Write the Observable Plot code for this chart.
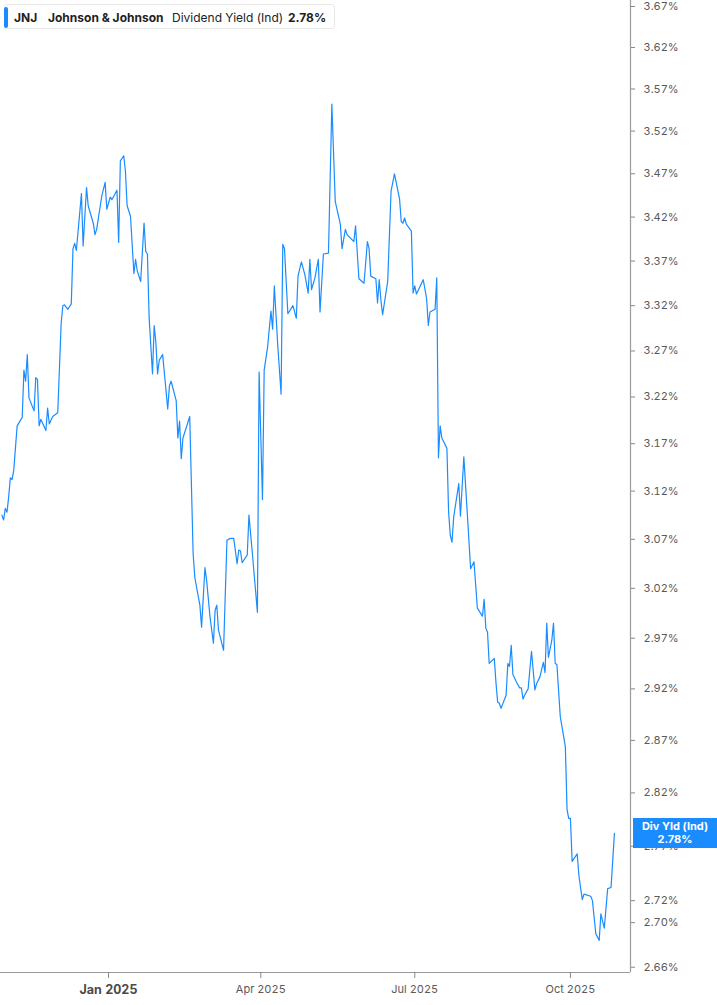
<!DOCTYPE html>
<html>
<head>
<meta charset="utf-8">
<script src="https://cdn.jsdelivr.net/npm/d3@7"></script>
<script src="https://cdn.jsdelivr.net/npm/@observablehq/plot@0.6"></script>
<style>
  html, body { margin: 0; padding: 0; background: #fff; }
  #wrap { position: relative; width: 717px; height: 1005px; font-family: Inter, "Noto Sans", sans-serif; }
  #legend { position: absolute; left: 4px; top: 4px; width: 331px; height: 25px; background: #fff;
    border: 1px solid #e8e8e8; border-radius: 3px; box-sizing: border-box; font-size: 12px; color: #222;
    display: flex; align-items: center; white-space: nowrap; }
  #legend .bar { position: absolute; left: -1px; top: 2px; width: 4px; height: 21px; background: #1a8cff; border-radius: 2px; }
  #legend span { position: absolute; top: 5px; }
  #tag { position: absolute; left: 633px; width: 84px; height: 30px; background: #1a8cff; color: #fff;
    font-size: 11px; font-weight: 700; text-align: center; line-height: 13px; box-sizing: border-box; padding-top: 2px; }
</style>
</head>
<body>
<div id="wrap"></div>
<script>
const ticker = "JNJ";
const company = "Johnson & Johnson";
const metric = "Dividend Yield (Ind)";
const tagTitle = "Div Yld (Ind)";

const dates = [
"2024-10-30","2024-10-31","2024-11-01","2024-11-02","2024-11-03","2024-11-04","2024-11-05","2024-11-06","2024-11-08","2024-11-11",
"2024-11-12","2024-11-13","2024-11-14","2024-11-15","2024-11-18","2024-11-19","2024-11-20","2024-11-21","2024-11-22","2024-11-25",
"2024-11-26","2024-11-27","2024-11-29","2024-12-02","2024-12-04","2024-12-05","2024-12-06","2024-12-08","2024-12-10","2024-12-11",
"2024-12-12","2024-12-13","2024-12-16","2024-12-17","2024-12-19","2024-12-20","2024-12-23","2024-12-24","2024-12-25","2024-12-28",
"2024-12-30","2024-12-31","2025-01-02","2025-01-03","2025-01-06","2025-01-07","2025-01-08","2025-01-10","2025-01-11","2025-01-12",
"2025-01-14","2025-01-16","2025-01-17","2025-01-18","2025-01-20","2025-01-22","2025-01-23","2025-01-24","2025-01-25","2025-01-27",
"2025-01-28","2025-01-29","2025-01-30","2025-01-31","2025-02-02","2025-02-05","2025-02-06","2025-02-07","2025-02-10","2025-02-11",
"2025-02-12","2025-02-13","2025-02-14","2025-02-18","2025-02-20","2025-02-21","2025-02-24","2025-02-25","2025-02-27","2025-02-28",
"2025-03-02","2025-03-04","2025-03-05","2025-03-06","2025-03-07","2025-03-10","2025-03-12","2025-03-14","2025-03-16","2025-03-18",
"2025-03-19","2025-03-20","2025-03-21","2025-03-24","2025-03-25","2025-03-27","2025-03-30","2025-03-31","2025-04-02","2025-04-03",
"2025-04-05","2025-04-07","2025-04-08","2025-04-09","2025-04-11","2025-04-13","2025-04-14","2025-04-15","2025-04-17","2025-04-20",
"2025-04-22","2025-04-23","2025-04-25","2025-04-27","2025-04-29","2025-04-30","2025-05-01","2025-05-03","2025-05-05","2025-05-06",
"2025-05-08","2025-05-11","2025-05-13","2025-05-15","2025-05-18","2025-05-19","2025-05-21","2025-05-22","2025-05-26","2025-05-27",
"2025-05-29","2025-06-01","2025-06-03","2025-06-04","2025-06-05","2025-06-08","2025-06-09","2025-06-10","2025-06-11","2025-06-12",
"2025-06-15","2025-06-17","2025-06-19","2025-06-22","2025-06-23","2025-06-24","2025-06-25","2025-06-26","2025-06-29","2025-06-30",
"2025-07-01","2025-07-02","2025-07-06","2025-07-08","2025-07-09","2025-07-10","2025-07-13","2025-07-14","2025-07-15","2025-07-16",
"2025-07-17","2025-07-20","2025-07-21","2025-07-22","2025-07-23","2025-07-24","2025-07-27","2025-07-28","2025-07-30","2025-08-01",
"2025-08-02","2025-08-03","2025-08-05","2025-08-07","2025-08-10","2025-08-11","2025-08-12","2025-08-13","2025-08-14","2025-08-17",
"2025-08-18","2025-08-19","2025-08-20","2025-08-21","2025-08-24","2025-08-25","2025-08-26","2025-08-27","2025-08-28","2025-08-30",
"2025-09-01","2025-09-02","2025-09-03","2025-09-04","2025-09-06","2025-09-08","2025-09-10","2025-09-11","2025-09-13","2025-09-15",
"2025-09-16","2025-09-17","2025-09-18","2025-09-20","2025-09-21","2025-09-22","2025-09-23","2025-09-25","2025-09-28","2025-09-29",
"2025-09-30","2025-10-01","2025-10-02","2025-10-05","2025-10-06","2025-10-08","2025-10-09","2025-10-13","2025-10-14","2025-10-16",
"2025-10-18","2025-10-19","2025-10-21","2025-10-23","2025-10-25","2025-10-27"
];

const yields = [
3.095,3.090,3.102,3.098,3.114,3.134,3.132,3.142,3.189,3.198,
3.249,3.237,3.266,3.219,3.205,3.241,3.239,3.189,3.196,3.184,
3.208,3.191,3.199,3.203,3.300,3.320,3.321,3.316,3.322,3.384,
3.390,3.382,3.447,3.387,3.454,3.433,3.413,3.400,3.406,3.444,
3.460,3.429,3.443,3.440,3.451,3.391,3.485,3.491,3.473,3.433,
3.421,3.356,3.372,3.359,3.347,3.413,3.381,3.378,3.307,3.245,
3.298,3.279,3.245,3.260,3.266,3.207,3.232,3.237,3.216,3.176,
3.194,3.154,3.176,3.199,3.056,3.031,3.003,2.981,3.041,3.028,
2.991,2.965,2.998,3.003,2.978,2.958,3.069,3.071,3.071,3.045,
3.059,3.058,3.046,3.054,3.095,3.056,2.996,3.247,3.111,3.249,
3.274,3.314,3.294,3.342,3.277,3.223,3.389,3.384,3.311,3.320,
3.306,3.353,3.369,3.355,3.334,3.372,3.338,3.351,3.372,3.313,
3.378,3.379,3.552,3.438,3.412,3.384,3.406,3.400,3.392,3.410,
3.350,3.345,3.392,3.384,3.353,3.350,3.323,3.349,3.326,3.310,
3.347,3.450,3.470,3.441,3.415,3.413,3.419,3.412,3.404,3.334,
3.342,3.333,3.349,3.328,3.298,3.313,3.316,3.351,3.155,3.189,
3.176,3.165,3.098,3.074,3.067,3.093,3.128,3.094,3.156,3.098,
3.069,3.040,3.047,3.000,2.992,3.009,2.980,2.976,2.945,2.950,
2.926,2.907,2.906,2.901,2.914,2.945,2.942,2.963,2.934,2.927,
2.921,2.921,2.910,2.914,2.920,2.957,2.919,2.925,2.932,2.946,
2.936,2.985,2.951,2.968,2.985,2.945,2.944,2.893,2.864,2.804,
2.796,2.796,2.756,2.763,2.743,2.721,2.726,2.724,2.720,2.690,
2.684,2.708,2.695,2.731,2.732,2.782
];

const yTicks = [3.67,3.62,3.57,3.52,3.47,3.42,3.37,3.32,3.27,3.22,3.17,3.12,3.07,3.02,2.97,2.92,2.87,2.82,2.77,2.72,2.70,2.66];
const xTickDates = ["2025-01-01","2025-04-01","2025-07-01","2025-10-01"];
const xTickLabels = ["Jan 2025","Apr 2025","Jul 2025","Oct 2025"];
const xDomain = ["2024-10-29T04:00Z","2025-11-05T12:00Z"];
const yDomain = [2.6553, 3.6774];

const data = dates.map((d, i) => ({date: new Date(d + "T00:00Z"), value: yields[i]}));
const lastValue = yields[yields.length - 1];
const x0 = new Date(xDomain[0]), x1 = new Date(xDomain[1]);
const tickD = xTickDates.map(d => new Date(d + "T00:00Z"));
const labelOf = new Map(tickD.map((d, i) => [+d, xTickLabels[i]]));

const chart = Plot.plot({
  width: 717,
  height: 1005,
  marginLeft: 0,
  marginRight: 87,
  marginTop: 0,
  marginBottom: 33,
  style: {fontFamily: "Inter, 'Noto Sans', sans-serif", background: "#fff", overflow: "visible"},
  x: {type: "utc", domain: [x0, x1]},
  y: {type: "log", domain: yDomain},
  marks: [
    Plot.ruleX([x1], {stroke: "#9a9a9a", strokeWidth: 1.2}),
    Plot.ruleY([yDomain[0]], {stroke: "#9a9a9a", strokeWidth: 1.2}),
    Plot.axisY({anchor: "right", ticks: yTicks, tickFormat: d => d.toFixed(2) + "%", tickSize: 4, tickPadding: 9,
      fontSize: 11, fill: "#5a5a5a", stroke: "#888", label: null}),
    Plot.axisX({anchor: "bottom", ticks: tickD.slice(0, 1), tickFormat: d => labelOf.get(+d), tickSize: 6, tickPadding: 7,
      fontSize: 12.5, fontWeight: "bold", fill: "#4a4a4a", stroke: "#888", label: null}),
    Plot.axisX({anchor: "bottom", ticks: tickD.slice(1), tickFormat: d => labelOf.get(+d), tickSize: 6, tickPadding: 7,
      fontSize: 11, fill: "#5a5a5a", stroke: "#888", label: null}),
    Plot.lineY(data, {x: "date", y: "value", stroke: "#1a8cff", strokeWidth: 1.2})
  ]
});

const wrap = document.getElementById("wrap");
wrap.appendChild(chart);

const legend = document.createElement("div");
legend.id = "legend";
legend.innerHTML = `<div class="bar"></div>
  <span style="left:9px;font-weight:700">${ticker}</span>
  <span style="left:43px;font-weight:700">${company.replace("&","&amp;")}</span>
  <span style="left:167px">${metric}</span>
  <span style="left:283px;font-weight:700">${lastValue.toFixed(2)}%</span>`;
wrap.appendChild(legend);

const ty = chart.scale("y").apply(lastValue);
const tag = document.createElement("div");
tag.id = "tag";
tag.style.top = (ty - 15) + "px";
tag.innerHTML = `${tagTitle}<br>${lastValue.toFixed(2)}%`;
wrap.appendChild(tag);
</script>
</body>
</html>
